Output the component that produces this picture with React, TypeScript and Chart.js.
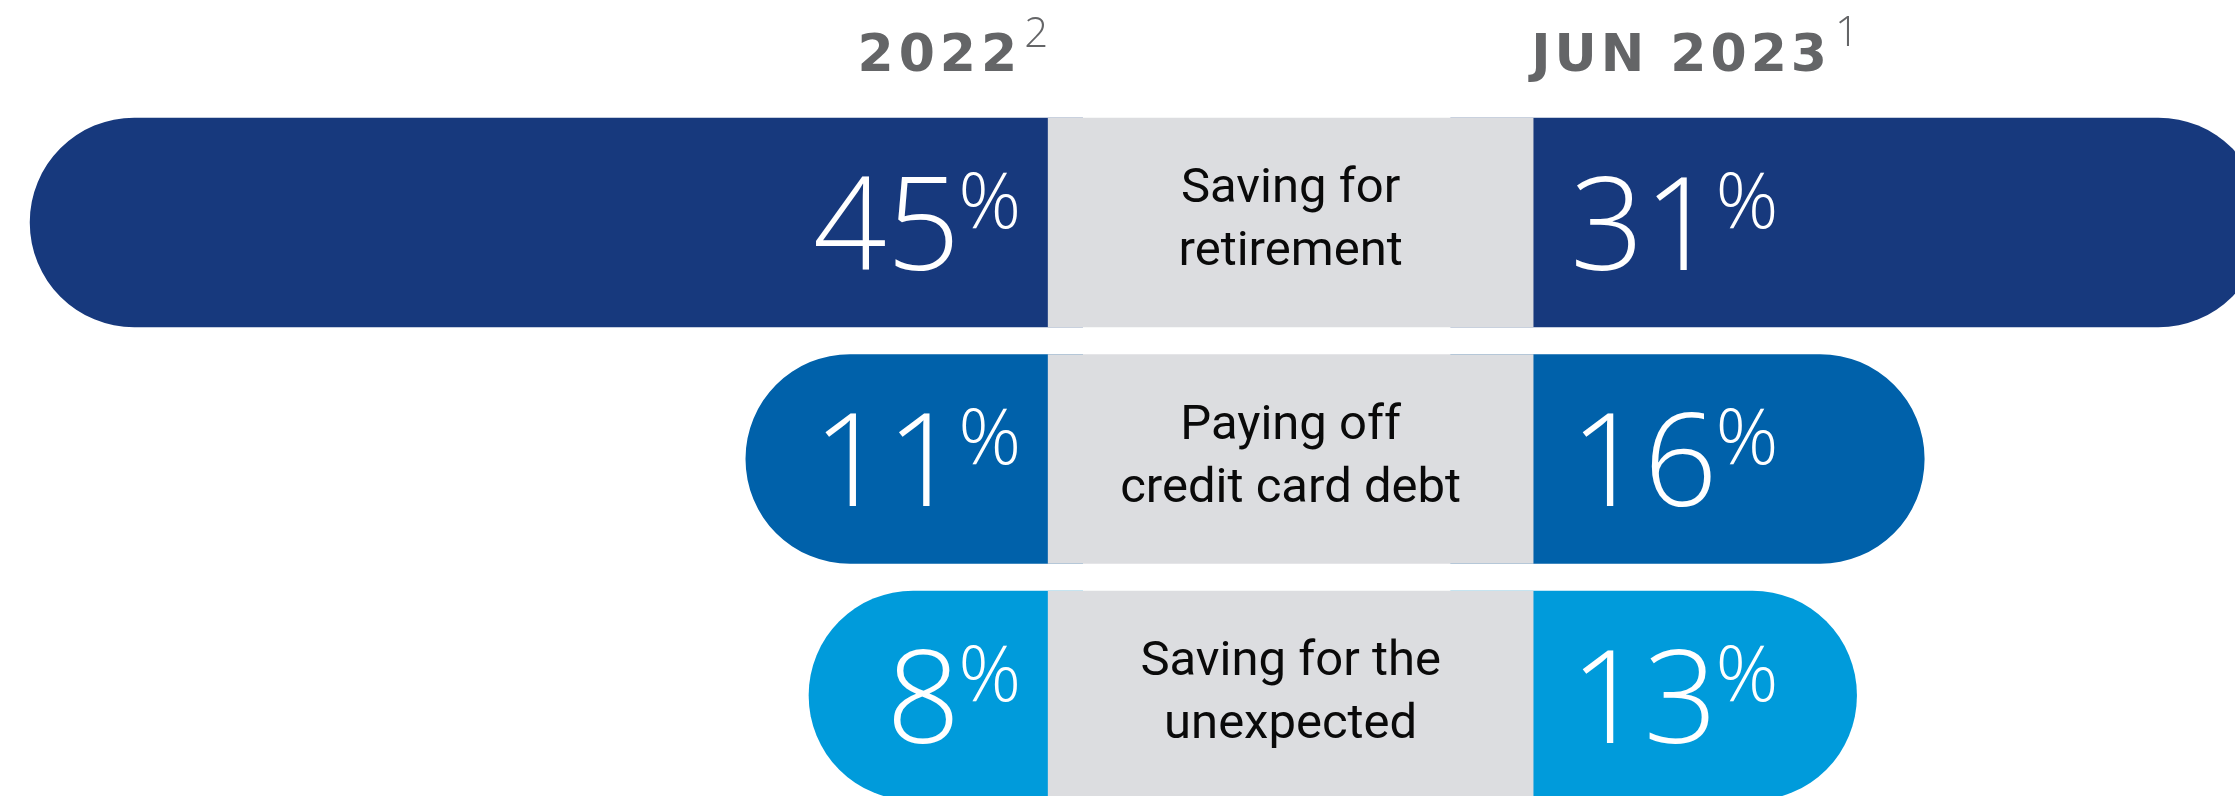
import React, { useEffect, useRef } from 'react';
import { Chart, registerables } from 'chart.js';

Chart.register(...registerables);

// ---- data ----
const categories: string[][] = [
  ['Saving for', 'retirement'],
  ['Paying off', 'credit card debt'],
  ['Saving for the', 'unexpected'],
];
const rowIndex = [0, 1, 2];
const values2022 = [45, 11, 8];
const valuesJun2023 = [31, 16, 13];
const periodLabels = ['2022', 'JUN 2023'];
const footnotes = ['2', '1'];
const barColors = ['#17397d', '#0061aa', '#009bdb'];

// ---- layout constants (axis units) ----
const BAR_BASE = -5; // bars start hidden under the centre band
const BAND_FROM = -22.85; // centre band on the right-hand axis
const BAND_TO = -1.344;
const R = 105;

const NUM_FONT = '300 129px "Open Sans"';
const PCT_FONT = '300 78px "Open Sans"';
const LABEL_FONT = '400 49px Roboto';
const HEAD_FONT = 'bold 52px "DejaVu Sans"';
const SUP_FONT = '300 42px "Open Sans"';

const labelPlugin = {
  id: 'rowLabels',
  afterDatasetsDraw(chart: any) {
    const ctx: CanvasRenderingContext2D = chart.ctx;
    const xR = chart.scales.xR;
    const y = chart.scales.y;
    const bandLeft = xR.getPixelForValue(BAND_FROM);
    const bandRight = xR.getPixelForValue(BAND_TO);
    const bandMid = (bandLeft + bandRight) / 2;
    ctx.save();
    ctx.textBaseline = 'alphabetic';
    rowIndex.forEach((i) => {
      const cy = y.getPixelForValue(i);
      // centre label
      ctx.fillStyle = '#0a0a0a';
      ctx.font = LABEL_FONT;
      ctx.textAlign = 'center';
      ctx.fillText(categories[i][0], bandMid, cy - 20);
      ctx.fillText(categories[i][1], bandMid, cy + 43);

      // left value
      ctx.fillStyle = '#ffffff';
      ctx.font = PCT_FONT;
      const pw = ctx.measureText('%').width;
      const pctX = bandLeft - 27 - pw;
      ctx.textAlign = 'left';
      ctx.fillText('%', pctX, cy + 5.5);
      ctx.font = NUM_FONT;
      ctx.textAlign = 'right';
      ctx.fillText(String(values2022[i]), pctX + 2, cy + 47.5);

      // right value
      const x0 = bandRight + 37;
      ctx.font = NUM_FONT;
      ctx.textAlign = 'left';
      const s = String(valuesJun2023[i]);
      ctx.fillText(s, x0, cy + 47.5);
      const nw = ctx.measureText(s).width;
      ctx.font = PCT_FONT;
      ctx.fillText('%', x0 + nw - 2, cy + 5.5);
    });

    // headers
    ctx.fillStyle = '#646567';
    ctx.font = SUP_FONT;
    const sw = ctx.measureText(footnotes[0]).width;
    ctx.textAlign = 'right';
    ctx.fillText(footnotes[0], bandLeft, 47);
    ctx.font = HEAD_FONT;
    (ctx as any).letterSpacing = '5px';
    ctx.fillText(periodLabels[0], bandLeft - sw - 2, 71);
    (ctx as any).letterSpacing = '4px';
    ctx.textAlign = 'left';
    ctx.fillText(periodLabels[1], bandRight - 2, 71);
    const hw = ctx.measureText(periodLabels[1]).width;
    (ctx as any).letterSpacing = '0px';
    ctx.font = SUP_FONT;
    ctx.fillText(footnotes[1], bandRight - 2 + hw + 4, 46);
    ctx.restore();
  },
};

export default function App() {
  const ref = useRef<HTMLCanvasElement | null>(null);
  useEffect(() => {
    document.body.style.margin = '0';
    const canvas = ref.current;
    if (!canvas) return;
    const chart = new Chart(canvas, {
      type: 'bar',
      data: {
        datasets: [
          {
            label: 'band',
            xAxisID: 'xR',
            data: rowIndex.map((i) => ({ x: [BAND_FROM, BAND_TO], y: i })) as any,
            backgroundColor: '#dcdde0',
            borderWidth: 0,
            borderSkipped: false,
            grouped: false,
            barThickness: 209,
            order: 0,
          },
          {
            label: periodLabels[0],
            xAxisID: 'xL',
            data: rowIndex.map((i) => ({ x: [BAR_BASE, values2022[i]], y: i })) as any,
            backgroundColor: barColors,
            borderWidth: 0,
            borderSkipped: false,
            borderRadius: { topLeft: R, bottomLeft: R, topRight: 0, bottomRight: 0 },
            grouped: false,
            barThickness: 209,
            order: 1,
          },
          {
            label: periodLabels[1],
            xAxisID: 'xR',
            data: rowIndex.map((i) => ({ x: [BAR_BASE, valuesJun2023[i]], y: i })) as any,
            backgroundColor: barColors,
            borderWidth: 0,
            borderSkipped: false,
            borderRadius: { topLeft: 0, bottomLeft: 0, topRight: R, bottomRight: R },
            grouped: false,
            barThickness: 209,
            order: 1,
          },
        ] as any,
      },
      options: {
        indexAxis: 'y',
        responsive: false,
        maintainAspectRatio: false,
        animation: false,
        devicePixelRatio: 1,
        layout: { padding: 0 },
        plugins: { legend: { display: false }, tooltip: { enabled: false }, title: { display: false } },
        scales: {
          y: { type: 'linear', display: false, reverse: true, offset: false, min: -0.9408, max: 2.425, bounds: 'data' },
          xL: { type: 'linear', display: false, reverse: true, offset: false, min: -59.74, max: 46.43, bounds: 'data' },
          xR: { type: 'linear', display: false, offset: false, min: -69.33, max: 29.78, bounds: 'data' },
        } as any,
      },
      plugins: [labelPlugin],
    });
    return () => chart.destroy();
  }, []);
  return (
    <div style={{ position: 'absolute', left: 0, top: 0, width: 2235, height: 796, background: '#fff' }}>
      <canvas ref={ref} width={2235} height={796} style={{ display: 'block', width: 2235, height: 796 }} />
    </div>
  );
}
